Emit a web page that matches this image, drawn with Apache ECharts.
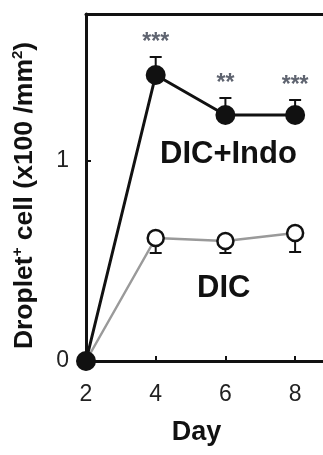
<!DOCTYPE html>
<html>
<head>
<meta charset="utf-8">
<script src="https://cdn.jsdelivr.net/npm/echarts@6/dist/echarts.min.js"></script>
<style>
html,body{margin:0;padding:0;background:#fff;}
#chart{width:323px;height:455px;}
</style>
</head>
<body>
<div id="chart"></div>
<script>
// ---- data ----
const days = [2, 4, 6, 8];
const dicIndoMean = [0, 1.43, 1.23, 1.23];
const dicIndoErr  = [0, 0.09, 0.085, 0.075];
const dicMean     = [0, 0.615, 0.60, 0.64];
const dicErr      = [0, 0.075, 0.06, 0.095];
const sigDays     = [4, 6, 8];
const sigMarks    = ['***', '**', '***'];
const xTickLabels = [2, 4, 6, 8];
const yTickLabels = [0, 1];
const seriesNames = ['DIC+Indo', 'DIC'];

const FONT = 'Liberation Sans, Arial, sans-serif';

const chart = echarts.init(document.getElementById('chart'), null, {renderer: 'canvas'});

function errData(means, errs, dir) {
  return days.map((d, i) => [d, means[i], errs[i], dir]).filter(r => r[2] > 0);
}
const sigData = sigDays.map((d, i) => {
  const idx = days.indexOf(d);
  return [d, dicIndoMean[idx] + dicIndoErr[idx], sigMarks[i]];
});

function renderErr(params, api) {
  const x = api.value(0), m = api.value(1), e = api.value(2), dir = api.value(3);
  const p0 = api.coord([x, m]);
  const p1 = api.coord([x, m + dir * e]);
  const st = {stroke: '#111', lineWidth: 2};
  return {
    type: 'group',
    children: [
      {type: 'line', shape: {x1: p0[0], y1: p0[1], x2: p1[0], y2: p1[1]}, style: st},
      {type: 'line', shape: {x1: p1[0] - 6, y1: p1[1], x2: p1[0] + 6, y2: p1[1]}, style: st}
    ]
  };
}

function renderSig(params, api) {
  const x = api.value(0), top = api.value(1);
  const p = api.coord([x, top]);
  return {
    type: 'text',
    style: {
      x: p[0], y: p[1] - 3,
      text: sigData[params.dataIndex][2],
      fill: '#5f6470',
      font: 'bold 23px ' + FONT,
      align: 'center', verticalAlign: 'bottom'
    }
  };
}

const option = {
  backgroundColor: '#fff',
  animation: false,
  grid: {left: 86, top: 14, width: 238, height: 347, containLabel: false},
  xAxis: [{
    type: 'value', min: 2, max: 8.8, interval: 2,
    position: 'bottom',
    axisLine: {show: true, onZero: false, lineStyle: {color: '#111', width: 3}},
    axisTick: {show: true, inside: true, length: 5, lineStyle: {color: '#111', width: 2},
               customValues: xTickLabels.slice(1)},
    axisLabel: {show: true, margin: 22, color: '#222', fontSize: 23, fontFamily: FONT,
                customValues: xTickLabels},
    splitLine: {show: false},
    name: 'Day', nameLocation: 'middle', nameGap: 58,
    nameTextStyle: {fontSize: 27, fontWeight: 'bold', color: '#111', fontFamily: FONT,
                    padding: [0, 16, 0, 0]}
  }, {
    type: 'value', min: 2, max: 8.8, position: 'top',
    axisLine: {show: true, onZero: false, lineStyle: {color: '#111', width: 3}},
    axisTick: {show: false}, axisLabel: {show: false}, splitLine: {show: false}
  }],
  yAxis: {
    type: 'value', min: 0, max: 1.735, interval: 1,
    axisLine: {show: true, onZero: false, lineStyle: {color: '#111', width: 3}},
    axisTick: {show: true, inside: true, length: 5, lineStyle: {color: '#111', width: 2},
               customValues: [1]},
    axisLabel: {show: true, margin: 17, color: '#222', fontSize: 23, fontFamily: FONT,
                customValues: yTickLabels},
    splitLine: {show: false},
    name: '{b|Droplet}{s|+}{b| cell (x100 /mm}{s|2}{b|)}',
    nameLocation: 'middle', nameRotate: 90, nameGap: 46,
    nameTextStyle: {
      color: '#111', fontFamily: FONT,
      padding: [0, 16, 0, 0],
      rich: {
        b: {fontSize: 26.5, fontWeight: 'bold', color: '#111', fontFamily: FONT, lineHeight: 30},
        s: {fontSize: 15, fontWeight: 'bold', color: '#111', fontFamily: FONT, verticalAlign: 'top', lineHeight: 30}
      }
    }
  },
  series: [
    {
      type: 'custom', name: 'err-dic', renderItem: renderErr,
      data: errData(dicMean, dicErr, -1), z: 1, silent: true
    },
    {
      type: 'custom', name: 'err-indo', renderItem: renderErr,
      data: errData(dicIndoMean, dicIndoErr, 1), z: 1, silent: true
    },
    {
      type: 'line', name: seriesNames[1],
      data: days.map((d, i) => [d, dicMean[i]]),
      lineStyle: {color: '#9a9a9a', width: 2.5},
      symbol: 'circle', symbolSize: 16,
      itemStyle: {color: '#fff', borderColor: '#111', borderWidth: 2.5},
      z: 3
    },
    {
      type: 'line', name: seriesNames[0],
      data: days.map((d, i) => [d, dicIndoMean[i]]),
      lineStyle: {color: '#111', width: 3},
      symbol: 'circle', symbolSize: 20,
      itemStyle: {color: '#111', borderColor: '#111', borderWidth: 0},
      z: 4
    },
    {
      type: 'custom', name: 'sig', renderItem: renderSig,
      data: sigData.map(r => [r[0], r[1]]), z: 5, silent: true
    }
  ],
  graphic: [
    {type: 'text', left: 160, top: 139, style: {text: seriesNames[0], font: 'bold 31px ' + FONT, fill: '#111'}},
    {type: 'text', left: 197, top: 273, style: {text: seriesNames[1], font: 'bold 31px ' + FONT, fill: '#111'}}
  ]
};
chart.setOption(option);
</script>
</body>
</html>
